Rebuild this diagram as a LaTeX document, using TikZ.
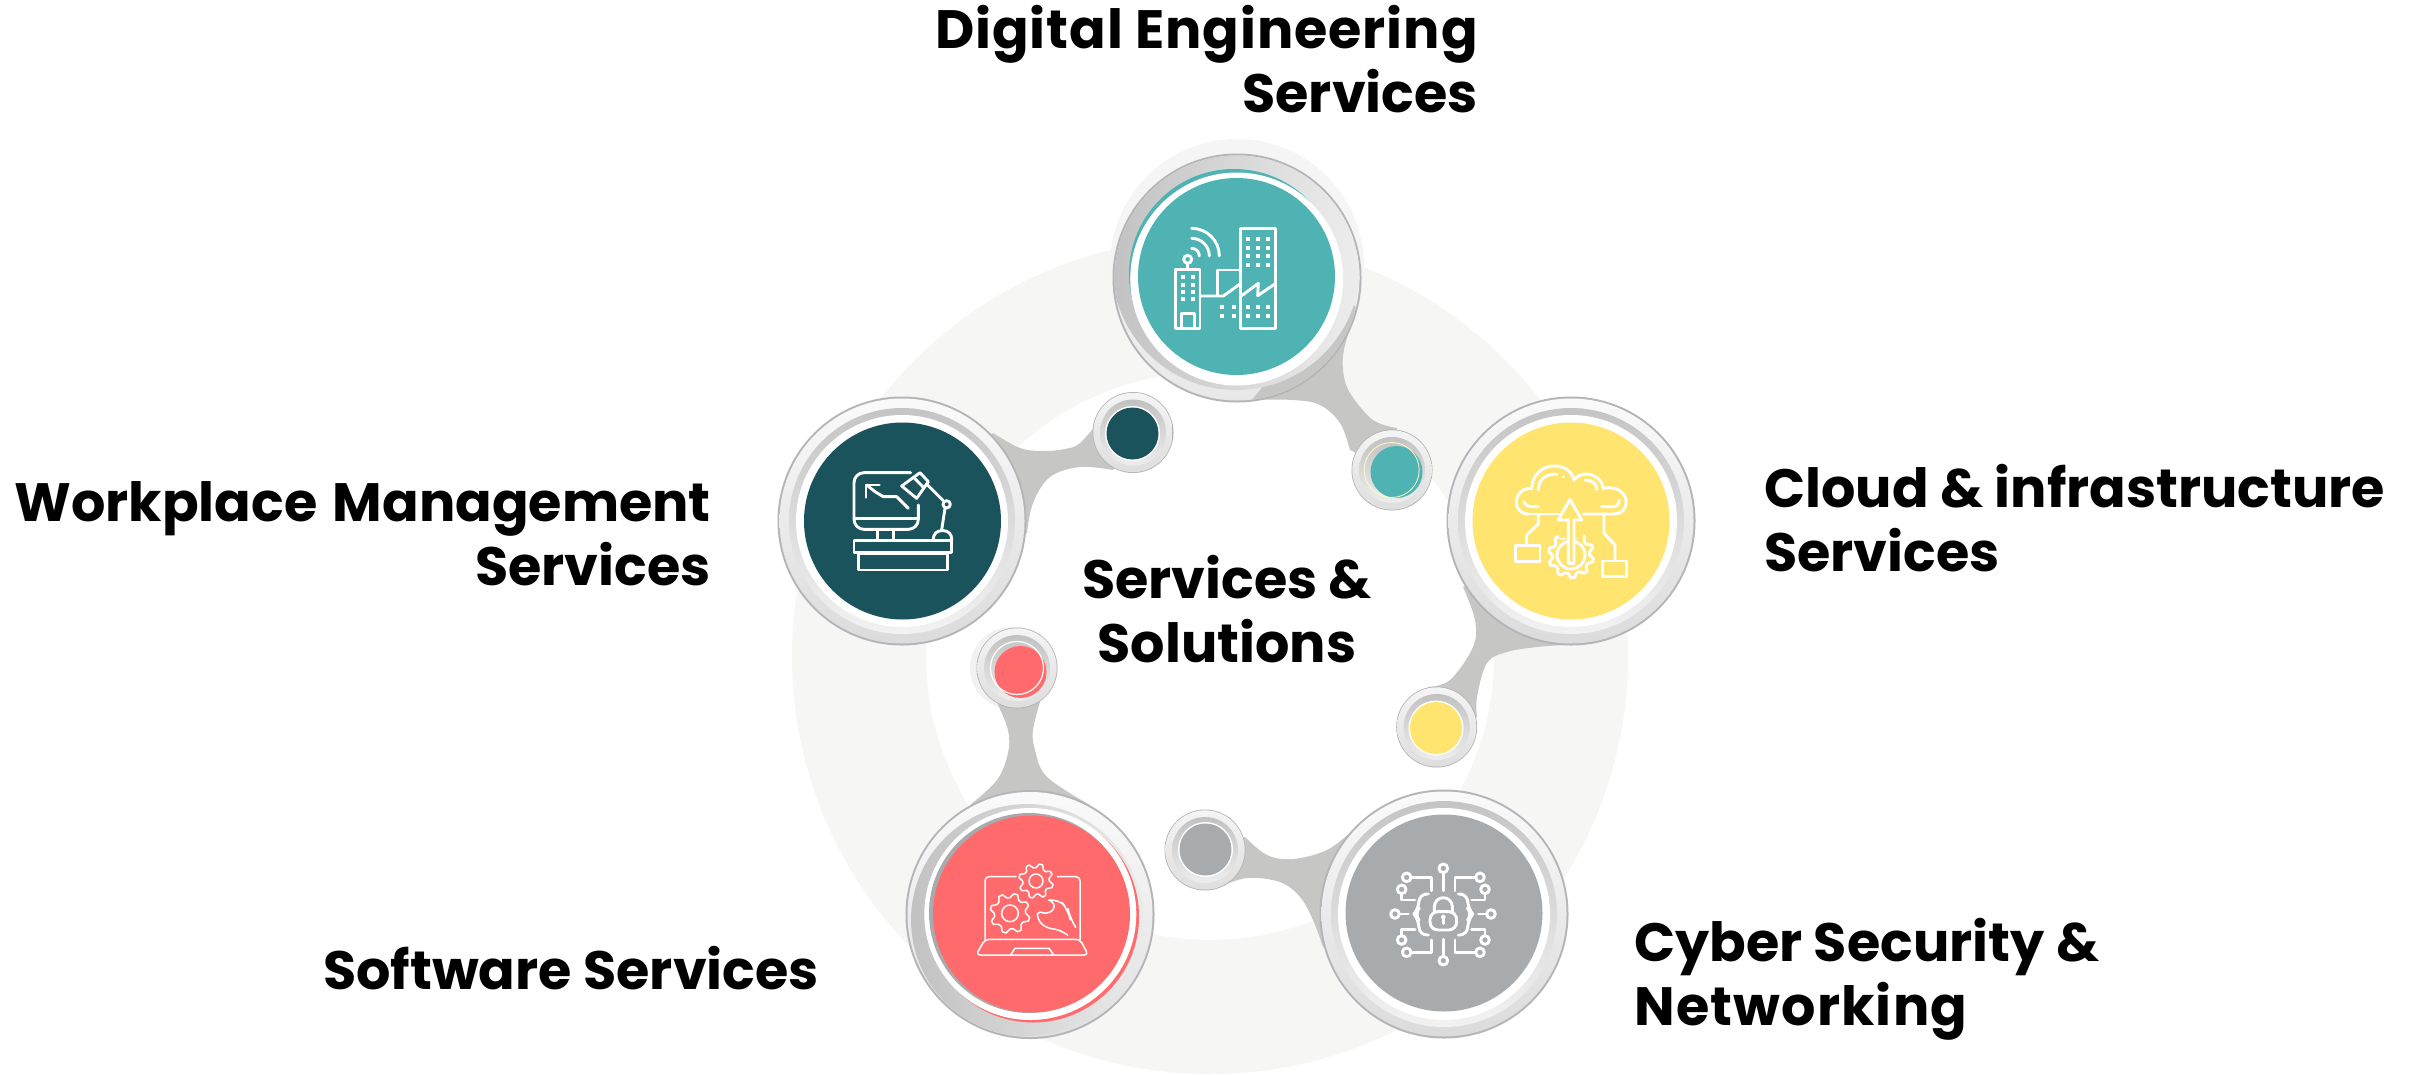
\documentclass[tikz,border=0pt]{standalone}
\usepackage{fontspec}
\setmainfont{Poppins}
\definecolor{ringbg}{HTML}{F6F6F4}
\definecolor{neckc}{HTML}{C6C6C4}
\definecolor{edgec}{HTML}{B4B5B9}
\definecolor{cteal}{HTML}{4FB3B4}
\definecolor{cdark}{HTML}{1B535D}
\definecolor{cyell}{HTML}{FFE56F}
\definecolor{cgrey}{HTML}{A8ABAE}
\definecolor{ccoral}{HTML}{FF6B6C}
\tikzset{
  bigdisc/.style={circle,inner sep=0pt,minimum size=197pt,fill=#1},
  smalldisc/.style={circle,inner sep=0pt,minimum size=52pt,fill=#1},
  neck/.style={fill=neckc},
  icon/.style={draw=white,line width=2.9pt,line join=round,line cap=round},
  thinicon/.style={draw=white,line width=1.5pt,line join=round,line cap=round},
  windowdot/.style={fill=white},
  textlabel/.style={inner sep=0pt,font=\fontsize{54}{63.5}\selectfont\bfseries,text=black}
}
\newcommand{\bigbezel}[2]{%
  \fill[edgec] (#1,#2) circle[radius=124.5];
  \shade[top color=black!2,bottom color=black!14] (#1,#2) circle[radius=122.5];
  \shade[top color=black!23,bottom color=black!5] (#1,#2) circle[radius=113];
  \fill[white] (#1,#2) circle[radius=106];
}
\newcommand{\smallbezel}[2]{%
  \fill[black!30] (#1,#2) circle[radius=40.5];
  \shade[top color=black!4,bottom color=black!13] (#1,#2) circle[radius=39.7];
  \shade[top color=black!24,bottom color=black!7] (#1,#2) circle[radius=33];
}
\newcommand{\geartrace}[6][icon]{%
  \pgfmathsetmacro{\gq}{90/#6}
  \pgfmathtruncatemacro{\gs}{4*#6+1}
  \draw[#1] plot[variable=\t,domain=0:360,samples=\gs]
    ({#2+((mod(round(\t/\gq),4)==1||mod(round(\t/\gq),4)==2)?#4:#5)*cos(\t)},
     {#3+((mod(round(\t/\gq),4)==1||mod(round(\t/\gq),4)==2)?#4:#5)*sin(\t)}) -- cycle;
}
\begin{document}
\begin{tikzpicture}[x=1pt,y=-1pt]
\useasboundingbox (0,0) rectangle (2420,1074);
\fill[white] (0,0) rectangle (2420,1074);
% background ring
\begin{scope}
\clip (0,0) rectangle (2420,1074);
\fill[ringbg,even odd rule] (1210,656) circle[radius=418] (1210,656) circle[radius=284];
\end{scope}
% pale halos
\fill[black!4] (1237,266) circle[radius=127];
\fill[black!5] (1011,668) circle[radius=41];
% necks
\fill[neck] plot[smooth,tension=.6] coordinates {(1357,310)(1345,345)(1343,370)(1350,393)(1373,420)(1397,428)} -- (1392,470) -- plot[smooth,tension=.6] coordinates {(1350,450)(1340,423)(1320,405)(1293,400)(1250,400)} -- (1237,278) -- cycle;
\fill[neck] plot[smooth,tension=.6] coordinates {(993,433)(1020,448)(1043,451)(1065,449)(1080,443)(1100,420)} -- (1133,432) -- plot[smooth,tension=.6] coordinates {(1113,470)(1080,467)(1050,477)(1033,503)(1027,533)} -- (902,521) -- cycle;
\fill[neck] plot[smooth,tension=.6] coordinates {(1463,587)(1475,620)(1473,647)(1450,680)(1428,687)} -- (1437,727) -- plot[smooth,tension=.6] coordinates {(1477,717)(1477,697)(1487,663)(1507,652)(1537,647)(1565,645)} -- (1571,521) -- cycle;
\fill[neck] plot[smooth,tension=.6] coordinates {(1353,830)(1327,850)(1293,859)(1267,855)(1245,837)} -- (1205,850) -- plot[smooth,tension=.6] coordinates {(1220,887)(1247,878)(1280,882)(1300,897)(1313,920)(1323,947)} -- (1444,914) -- cycle;
\fill[neck] plot[smooth,tension=.6] coordinates {(998,705)(1008,730)(1008,753)(997,780)(970,805)} -- (1030,914) -- plot[smooth,tension=.6] coordinates {(1090,805)(1047,777)(1035,750)(1033,730)(1040,702)} -- (1017,668) -- cycle;

% --- top big circle
\fill[edgec] (1237,278) circle[radius=124.5];
\shade[top color=black!3,bottom color=black!9] (1237,278) circle[radius=122.5];
\begin{scope}
\clip (1237,278) circle[radius=122.5];
\fill[neckc] (1250,402) -- (1270,378) -- (1350,300) -- (1365,320) -- (1300,405) -- cycle;
\shade[left color=black!24,right color=black!7] (1236,266) circle[radius=124];
\end{scope}
\fill[cteal] (1234,274) circle[radius=105];
\fill[white] (1236.7,279) circle[radius=106.5];
\node[bigdisc=cteal] (digital) at (1236.5,276.5) {};

% --- left, right, bottom right
\bigbezel{902}{521}
\node[bigdisc=cdark] (workplace) at (902.5,521) {};
\bigbezel{1571}{521}
\node[bigdisc=cyell] (cloud) at (1571,521) {};
\bigbezel{1444}{914}
\node[bigdisc=cgrey] (cyber) at (1444,913) {};

% --- bottom left big circle
\fill[edgec] (1030,914.5) circle[radius=124.5];
\shade[top color=black!2,bottom color=black!12] (1030,914.5) circle[radius=122.5];
\begin{scope}
\clip (1030,914.5) circle[radius=122.5];
\shade[left color=black!24,right color=black!8] (1027,920) circle[radius=116];
\end{scope}
\fill[ccoral] (1033,916.5) circle[radius=106];
\fill[white] (1030.3,914) circle[radius=106];
\fill[cgrey] (1029,913) circle[radius=100];
\node[bigdisc=ccoral] (software) at (1031.5,914) {};

% --- small circles
\smallbezel{1392}{470}
\node[smalldisc=cteal] (tealdot) at (1396.5,472) {};
\draw[yellow!25,line width=.8pt] (1391.7,470) circle[radius=27.5];
\smallbezel{1133}{432.5}
\fill[white] (1132.5,433.5) circle[radius=27.5];
\node[smalldisc=cdark] (darkdot) at (1132.5,433.5) {};
\smallbezel{1436.7}{727}
\fill[white] (1436,728) circle[radius=27.5];
\node[smalldisc=cyell] (yellowdot) at (1436,728) {};
\smallbezel{1205}{850}
\fill[white] (1205.5,849.5) circle[radius=27.5];
\node[smalldisc=cgrey] (greydot) at (1205.5,849.5) {};
\smallbezel{1017}{668}
\node[smalldisc=ccoral] (coraldot) at (1020.5,672) {};
\draw[white,line width=1.2pt] (1017,668) circle[radius=26.5];

% --- icon: city (zoom coordinates)
\begin{scope}[shift={(1080,130)},x=.33333pt,y=-.33333pt]
\draw[icon] (287,418) rectangle (360,595);
\draw[icon] (305,592) -- (305,550) -- (343,550) -- (343,592);
\foreach \wy in {442,465,487,507} \foreach \wx in {308,338}
  \fill[windowdot] (\wx-6,\wy-6) rectangle (\wx+6,\wy+6);
\draw[icon] (323,388) circle[radius=12];
\draw[icon] (323,400) -- (323,418);
\draw[icon] (482,295) rectangle (587,595);
\foreach \wy in {326,353,378,405,530,557} \foreach \wx in {503,533,563}
  \fill[windowdot] (\wx-6,\wy-6) rectangle (\wx+6,\wy+6);
\foreach \wy in {532,558} \foreach \wx in {426,462}
  \fill[windowdot] (\wx-6,\wy-6) rectangle (\wx+6,\wy+6);
\draw[icon] (485,497) -- (535,460) -- (533,497) -- (583,463);
\draw[icon] (412,495) -- (412,420) -- (482,420);
\draw[icon] (362,498) -- (430,498) -- (480,462);
\draw[icon] (335,295) arc[start angle=-90,end angle=0,radius=83];
\draw[icon] (335,325) arc[start angle=-90,end angle=0,radius=53];
\draw[icon] (335,355) arc[start angle=-90,end angle=0,radius=23];
\end{scope}

% --- icon: workplace
\begin{scope}[shift={(760,380)},x=.33333pt,y=-.33333pt]
\draw[icon,rounded corners=10pt] (452,278) -- (282,278) -- (282,448) -- (475,448) -- (475,375);
\draw[icon] (285,415) -- (475,415);
\draw[icon] (352,450) -- (352,480) (400,450) -- (400,480);
\draw[icon] (282,482) rectangle (575,518);
\draw[icon] (295,520) rectangle (562,570);
\draw[icon] (445,385) -- (410,350) -- (370,350) -- (345,335) -- (320,315);
\draw[icon] (318,352) -- (318,315) -- (358,315);
\draw[icon] (425,318) -- (480,278) -- (505,305) -- (470,355) -- cycle;
\draw[icon] (461,292) -- (490,322);
\draw[icon] (500,312) -- (550,362);
\draw[icon] (560,373) circle[radius=11];
\draw[icon] (555,385) -- (545,450);
\draw[icon,rounded corners=8pt] (520,480) -- (520,452) -- (575,452) -- (575,482);
\end{scope}

% --- icon: cloud
\begin{scope}[shift={(1350,380)},x=.33333pt,y=-.33333pt]
\geartrace{663}{525}{68}{56}{10}
\draw[icon] (663,525) circle[radius=42];
\fill[cyell] (628,420) rectangle (698,475);
\fill[cyell] (655,470) rectangle (672,552);
\draw[icon] (535,402) .. controls (485,402) and (485,325) .. (545,325)
  .. controls (550,240) and (660,240) .. (672,300)
  .. controls (700,265) and (755,285) .. (760,325)
  .. controls (840,310) and (850,402) .. (790,402) -- (700,402);
\draw[icon] (535,402) -- (625,402);
\draw[icon] (565,330) .. controls (565,290) and (600,280) .. (620,283);
\draw[icon] (640,290) -- (641,291);
\draw[icon] (705,300) .. controls (725,300) and (740,310) .. (740,328);
\draw[icon] (522,365) .. controls (525,378) and (535,380) .. (565,380);
\draw[icon] (755,380) -- (790,380) .. controls (800,380) and (806,372) .. (808,362);
\draw[icon] (655,550) -- (655,420) -- (625,420) -- (660,358) -- (695,420) -- (672,420) -- (672,550) -- cycle;
\draw[icon] (497,497) rectangle (570,545);
\draw[icon] (565,405) -- (565,432) -- (530,465) -- (530,497);
\draw[icon] (757,543) rectangle (830,590);
\draw[icon] (762,405) -- (762,460) -- (795,495) -- (795,543);
\end{scope}

% --- icon: lock
\begin{scope}[shift={(1150,780)},x=.33333pt,y=-.33333pt]
\draw[icon,rounded corners=8pt] (840,395) rectangle (920,450);
\draw[icon] (853,395) -- (853,380) arc[start angle=180,end angle=360,radius=27] -- (907,395);
\fill[white] (880,411) circle[radius=7];
\draw[icon] (880,411) -- (880,430);
\draw[icon,rounded corners=8pt] (835,342) -- (807,342) -- (807,385) -- (792,402) -- (807,420) -- (807,465) -- (835,465);
\draw[icon,rounded corners=8pt] (925,342) -- (953,342) -- (953,385) -- (968,402) -- (953,420) -- (953,465) -- (925,465);
\foreach \cx/\cy in {880/265,880/542,735/402,1023/402,770/292,755/328,990/292,1005/328,755/480,770/517,1005/480,990/517}
  \draw[icon] (\cx,\cy) circle[radius=13];
\draw[icon] (880,280) -- (880,332) (880,478) -- (880,528) (750,402) -- (775,402) (985,402) -- (1008,402);
\draw[icon] (785,292) -- (845,292) -- (845,332);
\draw[icon] (755,342) -- (755,360) -- (795,360);
\draw[icon] (975,292) -- (915,292) -- (915,332);
\draw[icon] (1005,342) -- (1005,360) -- (965,360);
\draw[icon] (755,465) -- (755,448) -- (795,448);
\draw[icon] (785,517) -- (845,517) -- (845,480);
\draw[icon] (1005,465) -- (1005,448) -- (965,448);
\draw[icon] (975,517) -- (915,517) -- (915,480);
\end{scope}

% --- icon: laptop
\begin{scope}[shift={(900,620)},x=.33333pt,y=-.33333pt]
\draw[thinicon,rounded corners=4pt] (348,770) -- (255,770) -- (255,958);
\draw[thinicon,rounded corners=4pt] (472,770) -- (540,770) -- (540,958);
\draw[thinicon,rounded corners=4pt] (255,958) -- (540,958) -- (565,1005) -- (228,1005) -- cycle;
\draw[thinicon] (333,1003) -- (345,985) -- (447,985) -- (460,1003);
\geartrace[thinicon]{330}{880}{60}{47}{8}
\draw[thinicon] (330,880) circle[radius=25];
\geartrace[thinicon]{408}{783}{52}{40}{8}
\draw[thinicon] (408,783) circle[radius=21];
\draw[thinicon,rounded corners=10pt] (450,840) -- (475,835) -- (505,870) -- (510,895) -- (527,922);
\draw[thinicon,rounded corners=6pt] (450,840) -- (470,860) -- (440,885) -- (412,870) -- (412,900) -- (440,925) -- (475,928) -- (503,945);
\end{scope}

% --- labels
\node[textlabel,align=right,anchor=base east] (t1) at (1478,112) {{\addfontfeature{LetterSpace=1.7}Digital Engineering}\\Services};
\node[textlabel,align=right,anchor=base east] (t2) at (711,585) {Workplace\hspace{4pt} Management\\Services};
\node[textlabel,align=left,anchor=base west] (t3) at (1764,571) {Cloud \& infrastructure\\Services};
\node[textlabel,align=left,anchor=base west] (t4) at (1634,1025) {Cyber Security \&\\{\addfontfeature{LetterSpace=2.2}Networking}};
\node[textlabel,anchor=base east] (t5) at (819,989) {Software Services};
\node[textlabel,align=center,anchor=base] (t6) at (1227,662) {Services \&\\Solutions};
\end{tikzpicture}
\end{document}
